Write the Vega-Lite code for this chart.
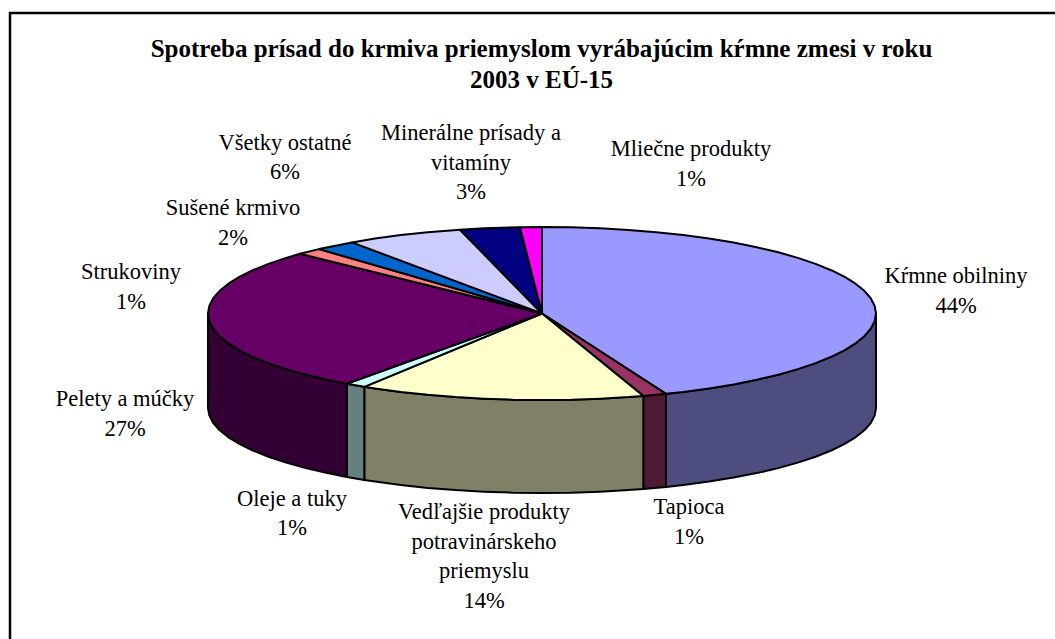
{"$schema":"https://vega.github.io/schema/vega-lite/v6.json","width":1055,"height":639,"padding":0,"autosize":{"type":"none"},"background":"white","view":{"stroke":null},
"title":{"text":["Spotreba prísad do krmiva priemyslom vyrábajúcim kŕmne zmesi v roku","2003 v EÚ-15"],"font":"Liberation Serif","fontSize":25,"fontWeight":"bold","color":"#000000","anchor":"middle","align":"center","frame":"group","lineHeight":31,"baseline":"top","dx":14,"dy":93,"offset":0},
"datasets":{
"frame":[{"x":10,"y":639,"i":1},{"x":10,"y":13,"i":2},{"x":1055,"y":13,"i":3}],
"pie":[
{"p":"Kw","i":1,"x":876,"y":313.5},{"p":"Kw","i":2,"x":874.7,"y":321},{"p":"Kw","i":3,"x":870.9,"y":328.5},{"p":"Kw","i":4,"x":864.6,"y":335.9},{"p":"Kw","i":5,"x":855.9,"y":343.1},{"p":"Kw","i":6,"x":844.7,"y":350.1},{"p":"Kw","i":7,"x":831.2,"y":356.8},{"p":"Kw","i":8,"x":815.6,"y":363.1},{"p":"Kw","i":9,"x":797.8,"y":369.1},{"p":"Kw","i":10,"x":778.2,"y":374.7},{"p":"Kw","i":11,"x":756.7,"y":379.8},{"p":"Kw","i":12,"x":733.6,"y":384.4},{"p":"Kw","i":13,"x":709,"y":388.4},{"p":"Kw","i":14,"x":683.2,"y":391.9},{"p":"Kw","i":15,"x":666,"y":393.8},
{"p":"Kw","i":16,"x":666,"y":486.9},{"p":"Kw","i":17,"x":683.2,"y":485},{"p":"Kw","i":18,"x":709,"y":481.6},{"p":"Kw","i":19,"x":733.6,"y":477.6},{"p":"Kw","i":20,"x":756.7,"y":473.1},{"p":"Kw","i":21,"x":778.2,"y":468.1},{"p":"Kw","i":22,"x":797.8,"y":462.6},{"p":"Kw","i":23,"x":815.6,"y":456.8},{"p":"Kw","i":24,"x":831.2,"y":450.5},{"p":"Kw","i":25,"x":844.7,"y":443.9},{"p":"Kw","i":26,"x":855.9,"y":437.1},{"p":"Kw","i":27,"x":864.6,"y":430},{"p":"Kw","i":28,"x":870.9,"y":422.8},{"p":"Kw","i":29,"x":874.7,"y":415.4},{"p":"Kw","i":30,"x":876,"y":408},
{"p":"Tw","i":1,"x":666,"y":393.8},{"p":"Tw","i":2,"x":643.3,"y":395.9},{"p":"Tw","i":3,"x":643.3,"y":489},{"p":"Tw","i":4,"x":666,"y":486.9},
{"p":"Vw","i":1,"x":643.3,"y":395.9},{"p":"Vw","i":2,"x":628.4,"y":397.1},{"p":"Vw","i":3,"x":600,"y":398.7},{"p":"Vw","i":4,"x":571.1,"y":399.7},{"p":"Vw","i":5,"x":542,"y":400},{"p":"Vw","i":6,"x":512.9,"y":399.7},{"p":"Vw","i":7,"x":484,"y":398.7},{"p":"Vw","i":8,"x":455.6,"y":397.1},{"p":"Vw","i":9,"x":427.8,"y":394.8},{"p":"Vw","i":10,"x":400.8,"y":391.9},{"p":"Vw","i":11,"x":375,"y":388.4},{"p":"Vw","i":12,"x":364.3,"y":386.8},
{"p":"Vw","i":13,"x":364.3,"y":480},{"p":"Vw","i":14,"x":375,"y":481.6},{"p":"Vw","i":15,"x":400.8,"y":485},{"p":"Vw","i":16,"x":427.8,"y":487.9},{"p":"Vw","i":17,"x":455.6,"y":490.1},{"p":"Vw","i":18,"x":484,"y":491.7},{"p":"Vw","i":19,"x":512.9,"y":492.7},{"p":"Vw","i":20,"x":542,"y":493},{"p":"Vw","i":21,"x":571.1,"y":492.7},{"p":"Vw","i":22,"x":600,"y":491.7},{"p":"Vw","i":23,"x":628.4,"y":490.1},{"p":"Vw","i":24,"x":643.3,"y":489},
{"p":"Ow","i":1,"x":364.3,"y":386.8},{"p":"Ow","i":2,"x":346.7,"y":383.7},{"p":"Ow","i":3,"x":346.7,"y":477},{"p":"Ow","i":4,"x":364.3,"y":480},
{"p":"Pw","i":1,"x":346.7,"y":383.7},{"p":"Pw","i":2,"x":327.3,"y":379.8},{"p":"Pw","i":3,"x":305.8,"y":374.7},{"p":"Pw","i":4,"x":286.2,"y":369.1},{"p":"Pw","i":5,"x":268.4,"y":363.1},{"p":"Pw","i":6,"x":252.8,"y":356.8},{"p":"Pw","i":7,"x":239.3,"y":350.1},{"p":"Pw","i":8,"x":228.1,"y":343.1},{"p":"Pw","i":9,"x":219.4,"y":335.9},{"p":"Pw","i":10,"x":213.1,"y":328.5},{"p":"Pw","i":11,"x":209.3,"y":321},{"p":"Pw","i":12,"x":208,"y":313.5},
{"p":"Pw","i":13,"x":208,"y":408},{"p":"Pw","i":14,"x":209.3,"y":415.4},{"p":"Pw","i":15,"x":213.1,"y":422.8},{"p":"Pw","i":16,"x":219.4,"y":430},{"p":"Pw","i":17,"x":228.1,"y":437.1},{"p":"Pw","i":18,"x":239.3,"y":443.9},{"p":"Pw","i":19,"x":252.8,"y":450.5},{"p":"Pw","i":20,"x":268.4,"y":456.8},{"p":"Pw","i":21,"x":286.2,"y":462.6},{"p":"Pw","i":22,"x":305.8,"y":468.1},{"p":"Pw","i":23,"x":327.3,"y":473.1},{"p":"Pw","i":24,"x":346.7,"y":477},
{"p":"K","i":0,"x":542,"y":313.5},{"p":"K","i":1,"x":542,"y":227},{"p":"K","i":2,"x":571.1,"y":227.3},{"p":"K","i":3,"x":600,"y":228.3},{"p":"K","i":4,"x":628.4,"y":229.9},{"p":"K","i":5,"x":656.2,"y":232.2},{"p":"K","i":6,"x":683.2,"y":235.1},{"p":"K","i":7,"x":709,"y":238.6},{"p":"K","i":8,"x":733.6,"y":242.6},{"p":"K","i":9,"x":756.7,"y":247.2},{"p":"K","i":10,"x":778.2,"y":252.3},{"p":"K","i":11,"x":797.8,"y":257.9},{"p":"K","i":12,"x":815.6,"y":263.9},{"p":"K","i":13,"x":831.2,"y":270.2},{"p":"K","i":14,"x":844.7,"y":276.9},{"p":"K","i":15,"x":855.9,"y":283.9},{"p":"K","i":16,"x":864.6,"y":291.1},{"p":"K","i":17,"x":870.9,"y":298.5},{"p":"K","i":18,"x":874.7,"y":306},{"p":"K","i":19,"x":876,"y":313.5},{"p":"K","i":20,"x":874.7,"y":321},{"p":"K","i":21,"x":870.9,"y":328.5},{"p":"K","i":22,"x":864.6,"y":335.9},{"p":"K","i":23,"x":855.9,"y":343.1},{"p":"K","i":24,"x":844.7,"y":350.1},{"p":"K","i":25,"x":831.2,"y":356.8},{"p":"K","i":26,"x":815.6,"y":363.1},{"p":"K","i":27,"x":797.8,"y":369.1},{"p":"K","i":28,"x":778.2,"y":374.7},{"p":"K","i":29,"x":756.7,"y":379.8},{"p":"K","i":30,"x":733.6,"y":384.4},{"p":"K","i":31,"x":709,"y":388.4},{"p":"K","i":32,"x":683.2,"y":391.9},{"p":"K","i":33,"x":666,"y":393.8},
{"p":"T","i":0,"x":542,"y":313.5},{"p":"T","i":1,"x":666,"y":393.8},{"p":"T","i":2,"x":643.3,"y":395.9},
{"p":"V","i":0,"x":542,"y":313.5},{"p":"V","i":1,"x":643.3,"y":395.9},{"p":"V","i":2,"x":628.4,"y":397.1},{"p":"V","i":3,"x":600,"y":398.7},{"p":"V","i":4,"x":571.1,"y":399.7},{"p":"V","i":5,"x":542,"y":400},{"p":"V","i":6,"x":512.9,"y":399.7},{"p":"V","i":7,"x":484,"y":398.7},{"p":"V","i":8,"x":455.6,"y":397.1},{"p":"V","i":9,"x":427.8,"y":394.8},{"p":"V","i":10,"x":400.8,"y":391.9},{"p":"V","i":11,"x":375,"y":388.4},{"p":"V","i":12,"x":364.3,"y":386.8},
{"p":"O","i":0,"x":542,"y":313.5},{"p":"O","i":1,"x":364.3,"y":386.8},{"p":"O","i":2,"x":346.7,"y":383.7},
{"p":"P","i":0,"x":542,"y":313.5},{"p":"P","i":1,"x":346.7,"y":383.7},{"p":"P","i":2,"x":327.3,"y":379.8},{"p":"P","i":3,"x":305.8,"y":374.7},{"p":"P","i":4,"x":286.2,"y":369.1},{"p":"P","i":5,"x":268.4,"y":363.1},{"p":"P","i":6,"x":252.8,"y":356.8},{"p":"P","i":7,"x":239.3,"y":350.1},{"p":"P","i":8,"x":228.1,"y":343.1},{"p":"P","i":9,"x":219.4,"y":335.9},{"p":"P","i":10,"x":213.1,"y":328.5},{"p":"P","i":11,"x":209.3,"y":321},{"p":"P","i":12,"x":208,"y":313.5},{"p":"P","i":13,"x":209.3,"y":306},{"p":"P","i":14,"x":213.1,"y":298.5},{"p":"P","i":15,"x":219.4,"y":291.1},{"p":"P","i":16,"x":228.1,"y":283.9},{"p":"P","i":17,"x":239.3,"y":276.9},{"p":"P","i":18,"x":252.8,"y":270.2},{"p":"P","i":19,"x":268.4,"y":263.9},{"p":"P","i":20,"x":286.2,"y":257.9},{"p":"P","i":21,"x":300,"y":253.8},
{"p":"S","i":0,"x":542,"y":313.5},{"p":"S","i":1,"x":300,"y":253.8},{"p":"S","i":2,"x":319,"y":249.1},
{"p":"U","i":0,"x":542,"y":313.5},{"p":"U","i":1,"x":319,"y":249.1},{"p":"U","i":2,"x":352,"y":242.4},
{"p":"A","i":0,"x":542,"y":313.5},{"p":"A","i":1,"x":352,"y":242.4},{"p":"A","i":2,"x":375,"y":238.6},{"p":"A","i":3,"x":400.8,"y":235.1},{"p":"A","i":4,"x":427.8,"y":232.2},{"p":"A","i":5,"x":460,"y":229.7},
{"p":"N","i":0,"x":542,"y":313.5},{"p":"N","i":1,"x":460,"y":229.7},{"p":"N","i":2,"x":484,"y":228.3},{"p":"N","i":3,"x":520,"y":227.2},
{"p":"M","i":0,"x":542,"y":313.5},{"p":"M","i":1,"x":520,"y":227.2},{"p":"M","i":2,"x":542,"y":227}
],
"labels":[
{"t":"Kŕmne obilniny\n44%","x":956,"y":276},{"t":"Tapioca\n1%","x":689,"y":507},{"t":"Vedľajšie produkty\npotravinárskeho\npriemyslu\n14%","x":484,"y":512},{"t":"Oleje a tuky\n1%","x":292,"y":498.5},{"t":"Pelety a múčky\n27%","x":125,"y":399},{"t":"Strukoviny\n1%","x":131,"y":272},{"t":"Sušené krmivo\n2%","x":233,"y":208},{"t":"Všetky ostatné\n6%","x":285,"y":142.5},{"t":"Minerálne prísady a\nvitamíny\n3%","x":471,"y":133},{"t":"Mliečne produkty\n1%","x":691,"y":149}
]},
"encoding":{
"x":{"field":"x","type":"quantitative","scale":{"domain":[0,1055],"range":[0,1055],"nice":false,"zero":false},"axis":null},
"y":{"field":"y","type":"quantitative","scale":{"domain":[0,639],"range":[0,639],"nice":false,"zero":false},"axis":null}},
"layer":[
{"data":{"name":"frame"},"mark":{"type":"line","stroke":"#000000","strokeWidth":2.5,"interpolate":"linear","clip":false},"encoding":{"order":{"field":"i","type":"quantitative"}}},
{"data":{"name":"pie"},"mark":{"type":"line","interpolate":"linear-closed","stroke":"#000000","strokeWidth":2,"strokeJoin":"round"},
"encoding":{"order":{"field":"i","type":"quantitative"},"detail":{"field":"p","type":"nominal"},
"fill":{"field":"p","type":"nominal","legend":null,"scale":{"domain":["K","T","V","O","P","S","U","A","N","M","Kw","Tw","Vw","Ow","Pw"],"range":["#9999FF","#993366","#FFFFCC","#CCFFFF","#660066","#FF8080","#0066CC","#CCCCFF","#000080","#FF00FF","#4D4D80","#4D1A33","#808066","#668080","#330033"]}}}},
{"data":{"name":"labels"},"mark":{"type":"text","font":"Liberation Serif","fontSize":22.5,"color":"#000000","align":"center","baseline":"middle","lineBreak":"\n","lineHeight":29.5},"encoding":{"text":{"field":"t","type":"nominal"}}}
]}
